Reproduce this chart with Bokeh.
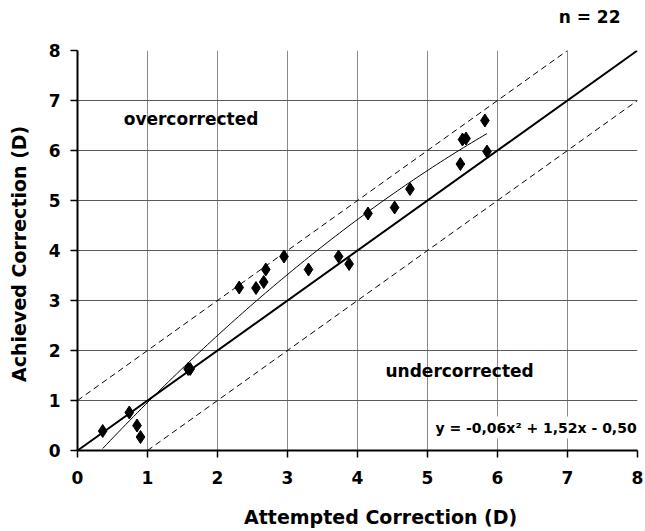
from bokeh.plotting import figure
from bokeh.models import Label, FixedTicker, Range1d
from bokeh.embed import file_html
from bokeh.resources import INLINE
import numpy as np

# Attempted vs achieved refractive correction (dioptres), one entry per eye
attempted = [0.36, 0.74, 0.85, 0.90, 1.58, 1.61, 2.31, 2.55, 2.66, 2.69, 2.95,
             3.30, 3.73, 3.88, 4.15, 4.53, 4.75, 5.47, 5.50, 5.55, 5.82, 5.85]
achieved = [0.39, 0.76, 0.50, 0.27, 1.63, 1.63, 3.26, 3.25, 3.37, 3.62, 3.88,
            3.62, 3.88, 3.73, 4.74, 4.86, 5.23, 5.73, 6.22, 6.24, 6.60, 5.98]

# quadratic regression y = a x^2 + b x + c
fit_a, fit_b, fit_c = -0.06, 1.52, -0.50
ticks = [0, 1, 2, 3, 4, 5, 6, 7, 8]

FONT = "DejaVu Sans"

p = figure(width=645, height=531, output_backend="svg", toolbar_location=None,
           x_range=Range1d(0, 8), y_range=Range1d(0, 8),
           min_border_left=77, min_border_right=8, min_border_top=50,
           min_border_bottom=81, outline_line_color=None)

# sample size shown top right; the empty second line lifts it clear of the frame
p.title.text = "n = 22\n"
p.title.align = "right"
p.title.vertical_align = "top"
p.title.offset = 17
p.title.standoff = 3
p.title.text_font = FONT
p.title.text_font_style = "bold"
p.title.text_font_size = "17px"
p.title.text_color = "black"

for ax in (p.xaxis, p.yaxis):
    ax.ticker = FixedTicker(ticks=ticks)
    ax.axis_line_color = "black"
    ax.axis_line_width = 2
    ax.major_tick_line_color = "black"
    ax.major_tick_line_width = 1.5
    ax.major_tick_out = 7
    ax.major_tick_in = 0
    ax.minor_tick_line_color = None
    ax.major_label_text_font = FONT
    ax.major_label_text_font_style = "bold"
    ax.major_label_text_font_size = "17px"
    ax.major_label_text_color = "black"
    ax.axis_label_text_font = FONT
    ax.axis_label_text_font_style = "bold"
    ax.axis_label_text_font_size = "19px"
    ax.axis_label_text_color = "black"

# non-breaking spaces nudge the x caption right of the frame centre
p.xaxis.axis_label = "\u00a0" * 7 + "Attempted Correction (D)"
p.yaxis.axis_label = "Achieved  Correction (D)"
p.xaxis.major_label_standoff = 13
p.xaxis.axis_label_standoff = 19
p.yaxis.major_label_standoff = 10
p.yaxis.axis_label_standoff = 16

p.xgrid.ticker = FixedTicker(ticks=ticks)
p.ygrid.ticker = FixedTicker(ticks=ticks)
p.xgrid.grid_line_color = "#8a8a8a"
p.ygrid.grid_line_color = "#5a5a5a"
p.xgrid.grid_line_width = 1
p.ygrid.grid_line_width = 1

# reference lines: perfect correction and +/- 1 D band
p.line([0, 8], [0, 8], line_color="black", line_width=2)
p.line([0, 7], [1, 8], line_color="black", line_width=1, line_dash="6 4")
p.line([1, 8], [0, 7], line_color="black", line_width=1, line_dash="6 4")

# regression curve over the range of the data
xs = np.linspace(min(attempted), max(attempted), 100)
ys = fit_a * xs ** 2 + fit_b * xs + fit_c
p.line(xs, ys, line_color="black", line_width=1)

p.scatter(attempted, achieved, marker="diamond", size=13,
          fill_color="black", line_color="black")

p.add_layout(Label(x=0.66, y=6.64, text="overcorrected", text_font=FONT,
                   text_font_style="bold", text_font_size="17px",
                   text_baseline="middle", text_color="black"))
p.add_layout(Label(x=4.4, y=1.6, text="undercorrected", text_font=FONT,
                   text_font_style="bold", text_font_size="17px",
                   text_baseline="middle", text_color="black"))
p.add_layout(Label(x=5.07, y=0.46,
                   text="y = -0,06x\u00b2 + 1,52x - 0,50", text_font=FONT,
                   text_font_style="bold", text_font_size="14px",
                   text_baseline="middle", text_color="black",
                   background_fill_color="white", background_fill_alpha=1.0,
                   padding=3))

open("out.html", "w").write(file_html(p, INLINE))
